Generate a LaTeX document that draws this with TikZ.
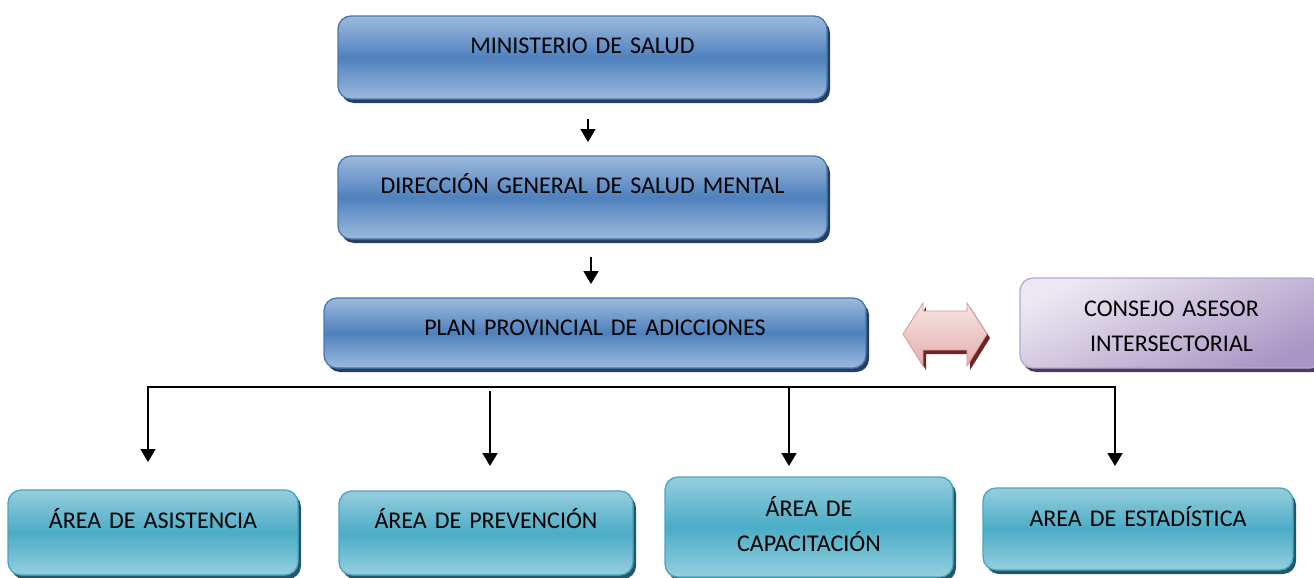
\documentclass[tikz,border=0pt]{standalone}
\usepackage{fontspec}
\setmainfont{Carlito}
\usetikzlibrary{arrows.meta,shadows}
\definecolor{bluelight}{HTML}{9DB9DD}
\definecolor{bluemid}{HTML}{4F81BD}
\definecolor{blueborder}{HTML}{4A78B0}
\definecolor{blueshadow}{HTML}{243F60}
\definecolor{teallight}{HTML}{95CEDE}
\definecolor{tealmid}{HTML}{4BACC6}
\definecolor{tealborder}{HTML}{4AA6BF}
\definecolor{tealshadow}{HTML}{215868}
\definecolor{purplelight}{HTML}{ECE8F2}
\definecolor{purplemid}{HTML}{A996C4}
\definecolor{purpleborder}{HTML}{B8A8CC}
\definecolor{purpleshadow}{HTML}{4B3A60}
\definecolor{pinklight}{HTML}{F6E4E3}
\definecolor{pinkmid}{HTML}{E3AEAC}
\definecolor{pinkborder}{HTML}{D99694}
\definecolor{pinkshadow}{HTML}{6E2522}
\begin{document}
\begin{tikzpicture}[x=1pt,y=-1pt,
  base/.style={anchor=north west, inner sep=0pt, outer sep=0pt, align=center,
    rounded corners=13pt, line width=1.3pt, font=\fontsize{24}{35}\selectfont, text=black},
  geom/.style n args={3}{text width=#1pt, text height=#2pt, text depth=#3pt},
  bluebox/.style={base, draw=blueborder, top color=bluelight, bottom color=bluelight,
    middle color=bluemid,
    drop shadow={shadow xshift=3pt, shadow yshift=-4pt, fill=blueshadow, opacity=1}},
  tealbox/.style={base, draw=tealborder, top color=teallight, bottom color=teallight,
    middle color=tealmid,
    drop shadow={shadow xshift=3pt, shadow yshift=-4pt, fill=tealshadow, opacity=1}},
  purplebox/.style={base, draw=purpleborder, top color=purplelight, bottom color=purplemid,
    shading angle=25,
    drop shadow={shadow xshift=3pt, shadow yshift=-4pt, fill=purpleshadow, opacity=1}},
  arr/.style={line width=1.8pt, -{Triangle[width=15pt,length=13pt]}},
  bus/.style={line width=2pt}
]
\useasboundingbox (0,0) rectangle (1314,578);

% top chain
\node[bluebox, geom={489}{37.3}{45.7}] (min) at (338,16) {MINISTERIO DE SALUD};
\node[bluebox, geom={489}{37.5}{45.5}] (dir) at (338,156) {DIRECCIÓN GENERAL DE SALUD MENTAL};
\node[bluebox, geom={542}{37.7}{32.3}] (plan) at (324,298) {PLAN PROVINCIAL DE ADICCIONES};
\node[purplebox, geom={303}{38.7}{51.3}] (cons) at (1020,278) {CONSEJO ASESOR\\INTERSECTORIAL};

% bottom areas
\node[tealbox, geom={290}{38}{47}] (asis) at (8,490) {ÁREA DE ASISTENCIA};
\node[tealbox, geom={294}{37.7}{46.3}] (prev) at (339,491) {ÁREA DE PREVENCIÓN};
\node[tealbox, geom={288}{39}{61}] (cap) at (665,477) {ÁREA DE\\CAPACITACIÓN};
\node[tealbox, geom={310}{38}{44}] (est) at (983,488) {AREA DE ESTADÍSTICA};

% vertical arrows in the chain
\coordinate (x1) at (588,0);
\coordinate (x2) at (591,0);
\draw[arr, shorten <=20pt, shorten >=14pt] (min.south -| x1) -- (dir.north -| x1);
\draw[arr, shorten <=18pt, shorten >=14pt] (dir.south -| x2) -- (plan.north -| x2);

% double arrow between plan and consejo
\fill[pinkshadow] (906,338) -- (926,307) -- (926,315) -- (970,315) -- (970,307) -- (990,338)
  -- (970,370) -- (970,354) -- (926,354) -- (926,370) -- cycle;
\path[draw=pinkborder, line width=0.8pt, top color=pinklight, bottom color=pinkmid]
  (903,334) -- (923,303) -- (923,311) -- (967,311) -- (967,303) -- (987,334)
  -- (967,366) -- (967,350) -- (923,350) -- (923,366) -- cycle;

% bus
\coordinate (bL) at (148,387);
\coordinate (bR) at (1115,387);
\coordinate (bP) at (490,391);
\coordinate (bC) at (789,387);
\coordinate (t1) at (148,462);
\coordinate (t2) at (490,466);
\coordinate (t3) at (789,466);
\coordinate (t4) at (1115,466);
\draw[bus] (bL) -- (bR);
\draw[arr] ([yshift=1pt]bL) -- (t1);
\draw[arr] (bP) -- (t2);
\draw[arr] (bC) -- (t3);
\draw[arr] ([yshift=1pt]bR) -- (t4);
\end{tikzpicture}
\end{document}
